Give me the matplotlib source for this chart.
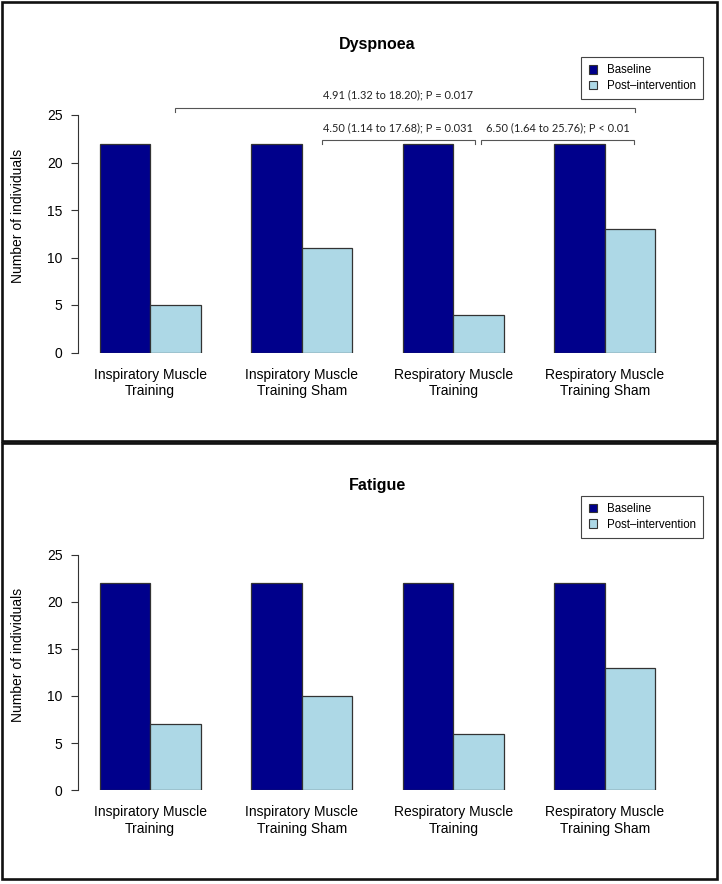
import matplotlib
matplotlib.use("Agg")
import matplotlib.pyplot as plt
from matplotlib.patches import Patch, Rectangle
import numpy as np

# ---- data ----
categories = ["Inspiratory Muscle\nTraining", "Inspiratory Muscle\nTraining Sham",
              "Respiratory Muscle\nTraining", "Respiratory Muscle\nTraining Sham"]
series_names = ["Baseline", "Post\u2013intervention"]
dyspnoea_baseline = [22, 22, 22, 22]
dyspnoea_post = [5, 11, 4, 13]
fatigue_baseline = [22, 22, 22, 22]
fatigue_post = [7, 10, 6, 13]
yticks = [0, 5, 10, 15, 20, 25]
# comparisons (group i, group j, label) for dyspnoea
comp_groups = [(0, 3), (1, 2), (2, 3)]
comp_labels = ["4.91 (1.32 to 18.20); P = 0.017",
               "4.50 (1.14 to 17.68); P = 0.031",
               "6.50 (1.64 to 25.76); P < 0.01"]

W, H = 722, 884
DARK = "#00008B"
LIGHT = "#ADD8E6"
EDGE = "#333333"
plt.rcParams['font.family'] = ['Liberation Sans', 'DejaVu Sans']

fig = plt.figure(figsize=(W / 100, H / 100), dpi=100)


def fx(px):
    return px / W


def fy(py):
    return 1 - py / H


def make_axes(y_top, y_zero):
    left, right = 77.5, 677.5
    ax = fig.add_axes([fx(left), fy(y_zero), (right - left) / W, (y_zero - y_top) / H])
    return ax


def draw_panel(ax, title, base, post):
    n = len(categories)
    # R barplot layout: bar width 1, space 1 between groups
    base_x = np.array([1 + 3 * i + 0.5 for i in range(n)])
    post_x = base_x + 1
    ax.bar(base_x, base, width=1, color=DARK, edgecolor=EDGE, linewidth=0.9, label=series_names[0])
    ax.bar(post_x, post, width=1, color=LIGHT, edgecolor=EDGE, linewidth=0.9, label=series_names[1])
    ax.set_xlim(0.56, 12.44)
    ax.set_ylim(0, 25)
    for s in ["top", "right", "bottom"]:
        ax.spines[s].set_visible(False)
    ax.spines["left"].set_color(EDGE)
    ax.spines["left"].set_linewidth(0.8)
    ax.set_yticks(yticks)
    ax.set_yticklabels([str(t) for t in yticks], fontsize=10)
    ax.tick_params(axis="y", length=4.7, width=0.8, color=EDGE, pad=6)
    ax.set_xticks((base_x + post_x) / 2)
    ax.set_xticklabels(categories, fontsize=10, linespacing=1.2)
    ax.tick_params(axis="x", length=0, pad=11)
    ax.set_ylabel("Number of individuals", fontsize=10)
    ax.yaxis.set_label_coords(-0.088, 0.573)
    ax.text(0.5, 1.0 + (115 - 45) / 237.5, title, transform=ax.transAxes, ha="center", va="center",
            fontsize=11.5, fontweight="bold")
    handles = [Patch(facecolor=DARK, edgecolor=EDGE, linewidth=0.8),
               Patch(facecolor=LIGHT, edgecolor=EDGE, linewidth=0.8)]
    return base_x, post_x, handles


# ---- top panel ----
ax1 = make_axes(115, 352.5)
b1, p1, h1 = draw_panel(ax1, "Dyspnoea", dyspnoea_baseline, dyspnoea_post)
ax2 = make_axes(554.7, 790.1)
b2, p2, h2 = draw_panel(ax2, "Fatigue", fatigue_baseline, fatigue_post)

for ax, ytop in ((ax1, 57), (ax2, 495.7)):
    leg = fig.legend(h1, series_names, loc="upper right",
                     bbox_to_anchor=(fx(703), fy(ytop)), bbox_transform=fig.transFigure,
                     fontsize=8.3, frameon=True, fancybox=False, framealpha=1,
                     handlelength=0.75, handleheight=0.75, handletextpad=0.8,
                     borderpad=0.65, labelspacing=0.3, borderaxespad=0)
    leg.get_frame().set_edgecolor("#444444")
    leg.get_frame().set_linewidth(0.8)

# comparison brackets (dyspnoea)
end_offsets = [(0.0, 0.1), (-0.1, -0.07), (0.05, 0.08)]
levels = [(25.7, 25.3, 27.1), (22.37, 21.95, 23.7), (22.37, 21.95, 23.7)]
for (gi, gj), lab, (o1, o2), (yb, yt, ytext) in zip(comp_groups, comp_labels, end_offsets, levels):
    x1 = p1[gi] + o1
    x2 = p1[gj] + o2
    ax1.plot([x1, x1, x2, x2], [yt, yb, yb, yt], color="#555555", lw=0.8, clip_on=False,
             solid_joinstyle="miter")
    ax1.text((x1 + x2) / 2 - (0.15 if (gi, gj) == (0, 3) else 0), ytext, lab,
             ha="center", va="center", fontsize=7.9, family=["Lato", "DejaVu Sans"],
             color="#222222", clip_on=False)

# panel frames
for (t, b) in ((2, 441), (443, 879)):
    fig.add_artist(Rectangle((fx(2), fy(b)), fx(715), (b - t) / H, transform=fig.transFigure,
                             fill=False, edgecolor="#111111", linewidth=1.9))

fig.savefig("out.png", dpi=100)
